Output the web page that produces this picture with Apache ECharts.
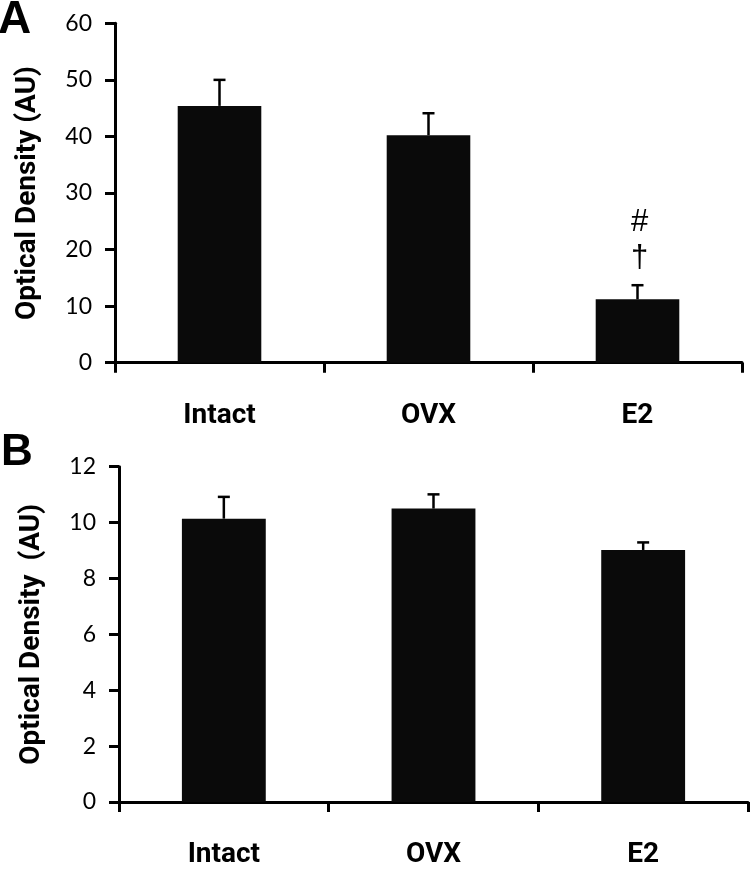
<!DOCTYPE html>
<html>
<head>
<meta charset="utf-8">
<script src="https://cdn.jsdelivr.net/npm/echarts@6/dist/echarts.min.js"></script>
<style>
html,body{margin:0;padding:0;background:#fff;}
#chart{width:750px;height:869px;}
</style>
</head>
<body>
<div id="chart"></div>
<script>
// ---- data ----
const categories = ['Intact', 'OVX', 'E2'];
const meansA = [45.4, 40.2, 11.2];
const errA = [4.6, 3.9, 2.5];
const marksA = [[], [], ['#', '\u2020']];
const meansB = [10.14, 10.5, 9.02];
const errB = [0.78, 0.51, 0.27];
const marksB = [[], [], []];
const ticksA = [0, 10, 20, 30, 40, 50, 60];
const ticksB = [0, 2, 4, 6, 8, 10, 12];
const yTitleA = 'Optical Density (AU)';
const yTitleB = 'Optical Density  (AU)';
const panelLetters = ['A', 'B'];

// ---- chart ----
const boldFont = 'Roboto, "Liberation Sans", Arial, sans-serif';
const tickFont = 'Lato, "Open Sans", sans-serif';

function errData(means, errs) {
  return means.map((m, i) => [i, m, errs[i]]);
}
function makeRender(marksList) {
  return function (params, api) {
    const i = params.dataIndex;
    const x = api.value(0), m = api.value(1), e = api.value(2);
    const base = api.coord([x, m]);
    const top = api.coord([x, m + e]);
    const capHalf = 6;
    const children = [
      {type: 'line', shape: {x1: base[0], y1: base[1], x2: top[0], y2: top[1]}, style: {stroke: '#000', lineWidth: 2.5}},
      {type: 'line', shape: {x1: top[0] - capHalf, y1: top[1], x2: top[0] + capHalf, y2: top[1]}, style: {stroke: '#000', lineWidth: 2.5}}
    ];
    const marks = marksList[i] || [];
    for (let k = marks.length - 1, off = 0; k >= 0; k--, off++) {
      children.push({
        type: 'text',
        style: {
          text: marks[k], x: top[0] + 2, y: top[1] - 11 - off * 36,
          textAlign: 'center', textVerticalAlign: 'bottom',
          fontFamily: '"Liberation Sans", Arial, sans-serif', fontSize: 31, fill: '#000'
        }
      });
    }
    return {type: 'group', children: children};
  };
}

const axisLine = {show: true, lineStyle: {color: '#000', width: 3}};
const axisTick = {show: true, length: 10, lineStyle: {color: '#000', width: 3}};

function xAxis(gi) {
  return {
    type: 'category', gridIndex: gi, data: categories,
    axisLine: axisLine, axisTick: Object.assign({alignWithLabel: false}, axisTick),
    axisLabel: {color: '#000', fontFamily: boldFont, fontWeight: 'bold', fontSize: 28, margin: 39}
  };
}
function yAxis(gi, ticks, title) {
  return {
    type: 'value', gridIndex: gi, min: ticks[0], max: ticks[ticks.length - 1],
    interval: ticks[1] - ticks[0],
    splitLine: {show: false}, axisLine: axisLine, axisTick: axisTick,
    axisLabel: {color: '#000', fontFamily: tickFont, fontSize: 23, margin: 23},
    name: title, nameLocation: 'middle', nameGap: 73, nameRotate: 90,
    nameTextStyle: {color: '#000', fontFamily: boldFont, fontWeight: 'bold', fontSize: 28}
  };
}

const chart = echarts.init(document.getElementById('chart'), null, {renderer: 'canvas'});
chart.setOption({
  backgroundColor: '#fff',
  animation: false,
  grid: [
    {left: 115, top: 23.3, width: 627, height: 339.4},
    {left: 119, top: 466.7, width: 629, height: 339}
  ],
  xAxis: [xAxis(0), xAxis(1)],
  yAxis: [yAxis(0, ticksA, yTitleA), yAxis(1, ticksB, yTitleB)],
  graphic: [
    {type: 'text', left: -2, top: -3, style: {text: panelLetters[0], fontFamily: '"Liberation Sans", Arial, sans-serif', fontWeight: 'bold', fontSize: 46, fill: '#000'}},
    {type: 'text', left: 1, top: 431, style: {text: panelLetters[1], fontFamily: '"Liberation Sans", Arial, sans-serif', fontWeight: 'bold', fontSize: 44, fill: '#000'}}
  ],
  series: [
    {type: 'bar', xAxisIndex: 0, yAxisIndex: 0, data: meansA, barWidth: '40%', itemStyle: {color: '#0a0a0a'}, z: 2},
    {type: 'custom', xAxisIndex: 0, yAxisIndex: 0, data: errData(meansA, errA), renderItem: makeRender(marksA), z: 1},
    {type: 'bar', xAxisIndex: 1, yAxisIndex: 1, data: meansB, barWidth: '40%', itemStyle: {color: '#0a0a0a'}, z: 2},
    {type: 'custom', xAxisIndex: 1, yAxisIndex: 1, data: errData(meansB, errB), renderItem: makeRender(marksB), z: 1}
  ]
});
</script>
</body>
</html>
